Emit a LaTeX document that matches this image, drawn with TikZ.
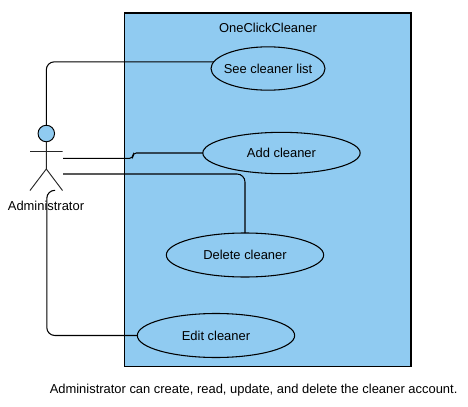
\documentclass[tikz,border=0pt]{standalone}
\usepackage{fontspec}
\setmainfont{Liberation Sans}
\usetikzlibrary{shapes.geometric}
\definecolor{skyfill}{HTML}{90CBF1}
\tikzset{
  usecase/.style={ellipse, draw, fill=skyfill, line width=0.8pt, inner sep=0pt, outer sep=0pt},
  link/.style={line width=0.8pt, rounded corners=6pt},
  stick/.style={line width=0.7pt, black!85},
  label/.style={font=\fontsize{9.7}{11}\selectfont, inner sep=0pt}
}
\begin{document}
\begin{tikzpicture}[x=0.75pt, y=-0.75pt]
    \useasboundingbox (0,0) rectangle (468,407);
    % system box
    \node[draw, fill=skyfill, line width=0.8pt, inner sep=0pt, minimum width=214.9pt, minimum height=264.8pt] (system) at (267.75,189.5) {};
    \node[label] (title) at (268,28) {OneClickCleaner};
    % use cases
    \node[usecase, minimum width=85.5pt, minimum height=32.5pt] (see) at (268,68.5) {};
    \node[usecase, minimum width=118pt, minimum height=31pt] (add) at (281.5,153) {};
    \node[usecase, minimum width=118pt, minimum height=33pt] (delete) at (245,255) {};
    \node[usecase, minimum width=118pt, minimum height=33pt] (edit) at (216,335.5) {};
    \node[label] at (see) {See cleaner list};
    \node[label] at (add) {Add cleaner};
    \node[label] at (delete) {Delete cleaner};
    \node[label] at (edit) {Edit cleaner};
    % actor
    \node[circle, draw, fill=skyfill, line width=0.7pt, inner sep=0pt, minimum size=12.4pt] (head) at (46.3,133.5) {};
    \coordinate (hip) at (46.3,169);
    \coordinate (armL) at (30,151.5);
    \coordinate (armR) at (62.5,151.5);
    \coordinate (legL) at (30,190.5);
    \coordinate (legR) at (62.5,190.5);
    \draw[stick] (head.south) -- (hip) (armL) -- (armR) (legL) -- (hip) -- (legR);
    \node[label] (actor) at (46,205.5) {Administrator};
    % connectors
    \coordinate (addStart) at (63,158.3);
    \coordinate (delStart) at (63,174);
    \coordinate (editStart) at (55,190.3);
    \draw[link] (head.north) |- (see.173);
    \draw[link, rounded corners=2.5pt] (addStart) -- (133,158.3) -- (133,153) -- (add.west);
    \draw[link] (delStart) -| (delete.north);
    \draw[link] (editStart) -- (46.8,190.3) |- (edit.west);
    % caption
    \node[label, anchor=west] (note) at (49.5,390) {Administrator can create, read, update, and delete the cleaner account.};
\end{tikzpicture}
\end{document}
